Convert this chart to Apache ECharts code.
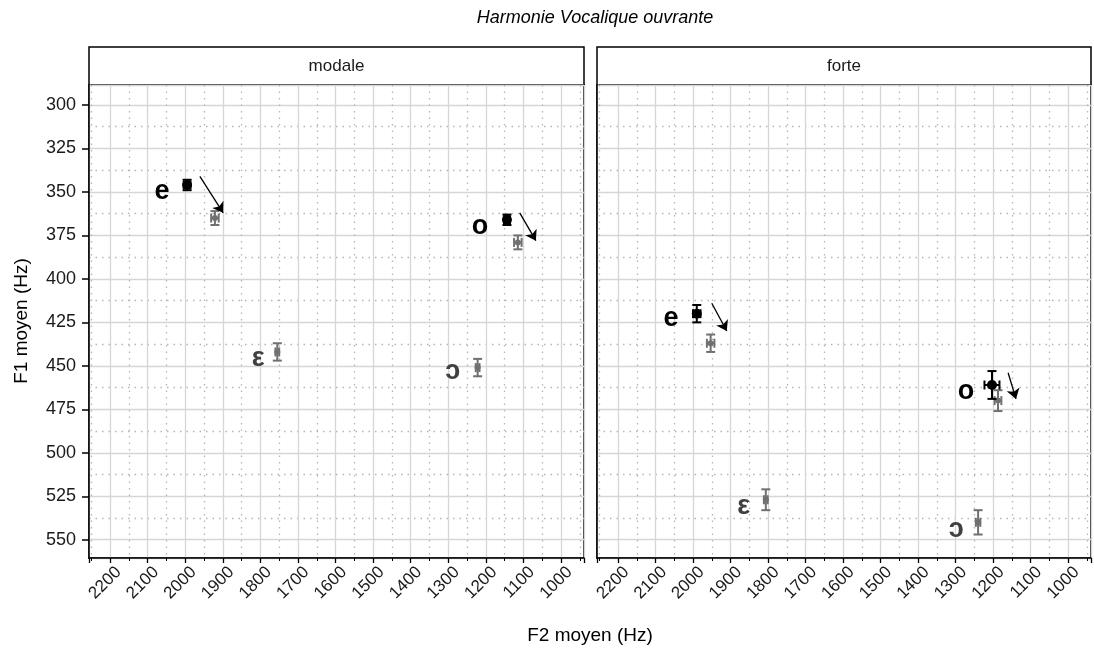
<!DOCTYPE html>
<html>
<head>
<meta charset="utf-8">
<title>Harmonie Vocalique ouvrante</title>
<script src="https://cdn.jsdelivr.net/npm/echarts@6/dist/echarts.min.js"></script>
<style>
  html, body { margin: 0; padding: 0; background: #fff; }
  #chart { width: 1094px; height: 652px; }
</style>
</head>
<body>
<div id="chart"></div>
<script>
// facettes
const facets = ['modale', 'forte'];

// points noirs (voyelle de départ) : modale e, modale o, forte e, forte o
const noirPanel = [0, 0, 1, 1];
const noirF2 = [1995, 1144, 1990, 1203];
const noirF1 = [346, 366, 420, 461];
const noirErrF2 = [9, 8, 10, 20];
const noirErrF1 = [3, 3, 5, 8];

// points gris (voyelle d'arrivée)
const grisPanel = [0, 0, 0, 0, 1, 1, 1, 1];
const grisF2 = [1921, 1115, 1755, 1222, 1953, 1187, 1806, 1240];
const grisF1 = [365, 379, 442, 451, 437, 470, 527, 540];
const grisErrF2 = [10, 10, 5, 5, 10, 9, 5, 6];
const grisErrF1 = [4, 4, 5, 5, 5, 6, 6, 7];

// étiquettes des voyelles
const labelPanel = [0, 0, 0, 0, 1, 1, 1, 1];
const labelText = ['e', 'o', 'ε', 'ɔ', 'e', 'o', 'ε', 'ɔ'];
const labelF2 = [2062, 1216, 1806, 1288, 2059, 1272, 1865, 1298];
const labelF1 = [350, 370, 446, 453, 423, 465, 531, 544];
const labelGris = [false, false, true, true, false, false, true, true];

// flèches
const flechePanel = [0, 0, 1, 1];
const flecheF2Debut = [1961, 1110, 1950, 1160];
const flecheF1Debut = [341, 362, 414, 454];
const flecheF2Fin = [1899, 1067, 1910, 1139];
const flecheF1Fin = [362, 378, 430, 469];

// bornes des axes
const F2_MIN = 939;
const F2_MAX = 2256;
const F1_MIN = 288.5;
const F1_MAX = 560.5;

const FONT = 'Liberation Sans, Arial, sans-serif';
const NOIR = '#000';
const GRIS = '#707070';
const GRIS_TEXTE = '#404040';

const chart = echarts.init(document.getElementById('chart'));

// point avec barres d'erreur horizontales et verticales
const makeErrorRender = (color, radius) => (params, api) => {
  const f2 = api.value(0);
  const f1 = api.value(1);
  const e2 = api.value(2);
  const e1 = api.value(3);
  const c = api.coord([f2, f1]);
  const xa = api.coord([f2 + e2, f1])[0];
  const xb = api.coord([f2 - e2, f1])[0];
  const ya = api.coord([f2, f1 - e1])[1];
  const yb = api.coord([f2, f1 + e1])[1];
  const cap = 4.5;
  const s = { stroke: color, lineWidth: 2 };
  return {
    type: 'group',
    children: [
      { type: 'line', shape: { x1: xa, y1: c[1], x2: xb, y2: c[1] }, style: s },
      { type: 'line', shape: { x1: xa, y1: c[1] - cap, x2: xa, y2: c[1] + cap }, style: s },
      { type: 'line', shape: { x1: xb, y1: c[1] - cap, x2: xb, y2: c[1] + cap }, style: s },
      { type: 'line', shape: { x1: c[0], y1: ya, x2: c[0], y2: yb }, style: s },
      { type: 'line', shape: { x1: c[0] - cap, y1: ya, x2: c[0] + cap, y2: ya }, style: s },
      { type: 'line', shape: { x1: c[0] - cap, y1: yb, x2: c[0] + cap, y2: yb }, style: s },
      { type: 'circle', shape: { cx: c[0], cy: c[1], r: radius }, style: { fill: color } }
    ]
  };
};

const renderLabel = (params, api) => {
  const c = api.coord([api.value(0), api.value(1)]);
  const i = api.value(2);
  return {
    type: 'text',
    x: c[0],
    y: c[1],
    style: {
      text: labelText[i],
      fill: labelGris[i] ? GRIS_TEXTE : NOIR,
      font: 'bold 27px ' + FONT,
      textAlign: 'center',
      textVerticalAlign: 'middle'
    }
  };
};

const grids = [
  { left: 89, top: 85, width: 495, height: 473 },
  { left: 597, top: 85, width: 494, height: 473 }
];

const xAxes = facets.map((f, p) => ({
  type: 'value',
  gridIndex: p,
  inverse: true,
  min: F2_MIN,
  max: F2_MAX,
  splitNumber: 13,
  minInterval: 100,
  maxInterval: 100,
  axisLine: { show: true, onZero: false, lineStyle: { color: NOIR, width: 1.5 } },
  axisTick: { show: true, length: 5, lineStyle: { color: NOIR, width: 1.3 } },
  minorTick: { show: true, splitNumber: 2, length: 3, lineStyle: { color: NOIR, width: 1 } },
  axisLabel: {
    rotate: 45,
    margin: 20,
    fontSize: 17,
    fontFamily: FONT,
    color: '#1a1a1a',
    padding: [0, -12, 0, 0],
    showMinLabel: false,
    showMaxLabel: false,
    formatter: (v) => String(v)
  },
  splitLine: { show: true, lineStyle: { color: '#d6d6d6', width: 1.3 } },
  minorSplitLine: { show: true, lineStyle: { color: '#b5b5b5', width: 1.3, type: [1.5, 5] } }
}));

const yAxes = facets.map((f, p) => ({
  type: 'value',
  gridIndex: p,
  inverse: true,
  min: F1_MIN,
  max: F1_MAX,
  splitNumber: 11,
  minInterval: 25,
  maxInterval: 25,
  axisLine: { show: true, onZero: false, lineStyle: { color: NOIR, width: 1.5 } },
  axisTick: { show: p === 0, length: 7, lineStyle: { color: NOIR, width: 1.5 } },
  axisLabel: {
    show: p === 0,
    margin: 13,
    fontSize: 18,
    fontFamily: FONT,
    color: '#1a1a1a',
    showMinLabel: false,
    showMaxLabel: false
  },
  splitLine: { show: true, lineStyle: { color: '#d6d6d6', width: 1.3 } },
  minorTick: { show: false, splitNumber: 2 },
  minorSplitLine: { show: true, lineStyle: { color: '#b5b5b5', width: 1.3, type: [1.5, 5] } }
}));

const series = [];
facets.forEach((f, p) => {
  series.push({
    type: 'custom',
    xAxisIndex: p,
    yAxisIndex: p,
    renderItem: makeErrorRender(GRIS, 3),
    data: grisF2.map((v, i) => [v, grisF1[i], grisErrF2[i], grisErrF1[i]]).filter((d, i) => grisPanel[i] === p),
    z: 3
  });
  series.push({
    type: 'custom',
    xAxisIndex: p,
    yAxisIndex: p,
    renderItem: makeErrorRender(NOIR, 5),
    data: noirF2.map((v, i) => [v, noirF1[i], noirErrF2[i], noirErrF1[i]]).filter((d, i) => noirPanel[i] === p),
    z: 4
  });
  series.push({
    type: 'custom',
    xAxisIndex: p,
    yAxisIndex: p,
    renderItem: renderLabel,
    data: labelF2.map((v, i) => [v, labelF1[i], i]).filter((d, i) => labelPanel[i] === p),
    z: 5
  });
  series.push({
    type: 'lines',
    coordinateSystem: 'cartesian2d',
    xAxisIndex: p,
    yAxisIndex: p,
    symbol: ['none', 'arrow'],
    symbolSize: 10,
    lineStyle: { color: NOIR, width: 1.3, opacity: 1, curveness: 0 },
    data: flecheF2Debut
      .map((v, i) => ({ coords: [[v, flecheF1Debut[i]], [flecheF2Fin[i], flecheF1Fin[i]]] }))
      .filter((d, i) => flechePanel[i] === p),
    z: 6
  });
});

// bandeaux des facettes
const strips = [];
facets.forEach((f, p) => {
  const g = grids[p];
  strips.push({
    type: 'rect',
    shape: { x: g.left, y: 47, width: g.width, height: g.top - 47 },
    style: { fill: '#fff', stroke: NOIR, lineWidth: 1.5 }
  });
  strips.push({
    type: 'text',
    x: g.left + g.width / 2,
    y: 66,
    style: { text: f, font: '17px ' + FONT, fill: '#1a1a1a', textAlign: 'center', textVerticalAlign: 'middle' }
  });
});

const option = {
  backgroundColor: '#fff',
  animation: false,
  title: {
    text: 'Harmonie Vocalique ouvrante',
    left: 590,
    top: 4,
    textAlign: 'center',
    textStyle: { fontStyle: 'italic', fontWeight: 'normal', fontSize: 18, fontFamily: FONT, color: '#000' }
  },
  grid: grids.map((g) => ({ ...g, show: true, borderColor: NOIR, borderWidth: 1.5, backgroundColor: '#fff' })),
  xAxis: xAxes,
  yAxis: yAxes,
  series: series,
  graphic: [
    ...strips,
    {
      type: 'text',
      x: 590,
      y: 636,
      style: { text: 'F2 moyen (Hz)', font: '19px ' + FONT, fill: NOIR, textAlign: 'center', textVerticalAlign: 'middle' }
    },
    {
      type: 'text',
      x: 22,
      y: 321,
      rotation: Math.PI / 2,
      style: { text: 'F1 moyen (Hz)', font: '19px ' + FONT, fill: NOIR, textAlign: 'center', textVerticalAlign: 'middle' }
    }
  ]
};

chart.setOption(option);
</script>
</body>
</html>
